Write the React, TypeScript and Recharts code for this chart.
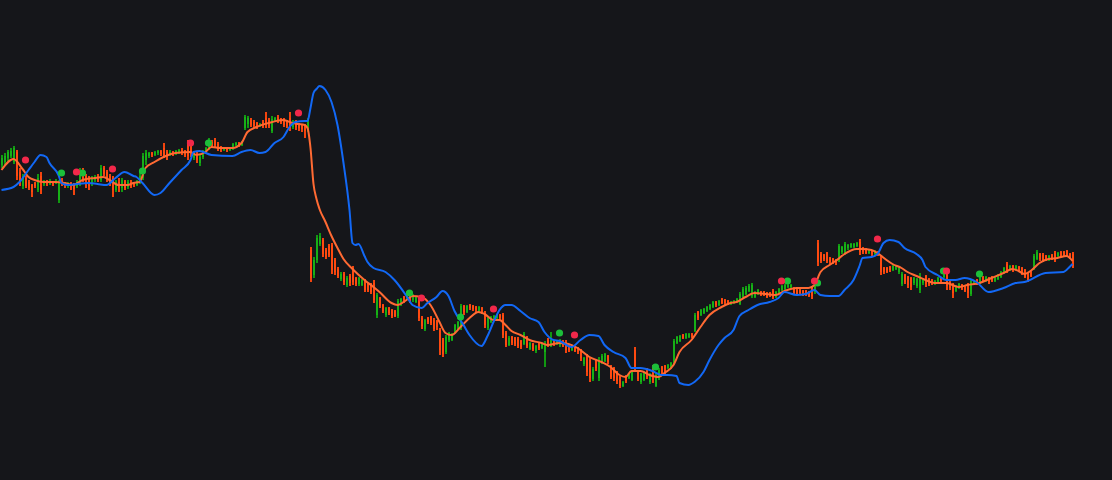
import React from 'react';
import { ComposedChart, Bar, Line, XAxis, YAxis } from 'recharts';

const W = 1112;
const H = 480;
const BG = '#15161a';
const UP_BODY = '#17b017';
const UP_WICK = '#119811';
const DOWN_BODY = '#ff4a10';
const DOWN_WICK = '#f2440e';
const MA_COLOR = '#ff6a33';
const BLUE = '#1268f5';
const RED_DOT = '#f2284a';
const GREEN_DOT = '#1cbf3a';

// OHLC candles (price units)
const open: number[] = [
  315,318,322,324,318,328,308,294,302,298, 295,297,290,304,296,299,296,298,297,280,
  300,296,294,297,296,294,296,308,304,302, 296,300,304,300,312,308,304,302,290,298,
  292,299,293,298,297,295,298,302,320,324, 327,325,327,329,332,328,325,328,326,328,
  330,329,337,
  334,322,326,317,323,329,332,338,340,336, 333,330,332,330,332,335,337,335,352,356,
  360,358,357,354,358,362,360,349,359,363, 361,360,359,362,353,358,356,355,354,350,
  230,205,220,236,240,230,234,235,220,211, 201,206,195,204,212,202,196,195,199,196,
  195,197,165,182,175,165,172,170,169,164, 175,183,182,187,180,178,180,162,151,162,
  163,160,159,150,140,128,140,140,147,151, 152,174,168,175,174,173,169,172,167,152,
  158,160,162,165,165,147,135,143,142,141, 139,136,143,131,136,129,137,132,128,140,
  134,139,136,
  135,139,138,135,130,133,132,130,116,124, 120,101,120,102,118,119,124,113,112,108,
  103,94,104,102,100,130,108,98,100,111, 98,113,94,102,113,114,112,112,118,137,
  139,145,142,143,146,149,168,165,167,169, 171,173,178,175,181,180,179,176,177,178,
  176,183,
  186,189,184,183,186,188,188,187,187,189, 183,187,190,191,193,193,192,190,190,189,
  189,188,192,188,237,226,225,227,222,221, 220,220,228,227,232,233,233,234,238,232,
  231,227,229,226,228,222,212,212,213,210, 211,208,196,205,203,202,197,194,190,197,
  204,201,200,196,198,202,203,207,198,195, 189,192,195,193,196,186,196,200,197,203,
  199,202,203,199,201,203,207,216,210,214, 210,213,212,210,207,208,211,221,226,225,
  224,220,225,227,224,228,228,229,226,226,
];
const high: number[] = [
  325,327,330,332,334,330,312,306,304,300, 296,298,306,308,300,300,301,299,301,300,
  302,298,298,298,297,300,312,312,306,304, 304,305,306,315,314,310,306,304,300,302,
  302,300,300,300,298,300,308,327,330,328, 328,329,330,330,337,330,330,329,330,331,
  332,330,340,
  339,328,328,325,330,333,342,340,342,338, 334,333,333,333,337,338,338,339,365,364,
  362,360,358,357,360,368,362,364,363,365, 362,362,360,368,360,360,357,356,356,362,
  233,223,245,247,242,232,236,237,222,213, 208,208,204,206,214,203,203,201,201,197,
  197,200,187,183,176,173,173,171,170,181, 182,184,189,189,186,184,183,164,161,163,
  164,162,160,152,142,145,148,147,156,159, 176,175,175,176,175,174,174,173,169,163,
  164,165,166,166,167,149,144,144,143,143, 140,148,144,138,137,135,138,137,139,142,
  148,140,140,
  141,140,140,136,134,134,133,131,123,126, 122,113,121,123,126,127,125,115,113,109,
  104,99,105,107,110,133,109,107,109,112, 107,115,107,112,114,115,116,118,141,144,
  145,146,147,147,147,167,169,171,172,174, 176,179,179,180,182,181,180,179,180,182,
  188,193,
  194,196,197,189,191,189,189,188,188,191, 189,192,195,196,196,196,193,191,191,190,
  190,189,194,196,240,228,226,228,223,222, 221,236,234,238,236,237,237,238,241,233,
  232,231,230,230,229,224,213,213,214,215, 215,213,208,206,204,203,203,202,207,202,
  205,202,201,200,203,203,210,209,199,197, 195,197,196,194,197,200,200,201,205,204,
  204,203,204,204,206,209,213,218,215,215, 215,214,213,211,208,209,226,230,227,227,
  225,225,226,229,228,229,229,230,227,228,
];
const low: number[] = [
  312,315,319,322,316,300,294,291,292,290, 283,292,288,286,294,294,295,294,296,277,
  294,292,292,290,285,292,294,298,292,290, 294,298,298,298,304,298,294,283,288,288,
  288,290,291,292,293,294,296,300,315,322, 323,324,325,324,322,320,324,324,325,326,
  325,323,320,
  323,320,317,314,321,327,330,332,333,329, 328,329,328,329,330,334,333,334,350,352,
  353,352,351,353,352,352,352,347,358,357, 356,353,352,349,351,350,349,348,342,348,
  198,202,217,234,223,221,223,206,205,202, 199,195,193,194,195,194,194,194,188,188,
  186,177,162,172,167,163,165,162,163,162, 174,177,181,177,178,177,159,151,149,156,
  155,149,150,125,123,126,138,139,146,150, 150,165,167,170,169,168,168,166,152,150,
  157,159,161,160,142,133,134,135,134,132, 131,135,132,130,129,127,130,131,113,133,
  133,134,135,
  133,133,127,128,129,128,126,119,114,104, 98,99,109,99,116,118,116,101,99,96,
  92,93,97,101,99,109,99,96,99,101, 96,97,93,100,104,106,111,111,116,136,
  138,141,141,142,142,148,160,164,166,168, 170,172,173,174,176,175,175,175,176,177,
  175,182,
  185,188,182,182,185,184,184,182,183,181, 182,186,189,190,192,192,185,184,185,184,
  184,183,181,186,214,217,219,217,216,216, 215,218,226,225,230,232,232,233,225,226,
  226,226,224,225,224,205,206,207,208,209, 210,206,194,196,192,190,195,192,187,195,
  193,194,195,195,197,198,202,190,190,182, 188,191,190,188,182,184,195,195,196,198,
  198,196,198,198,200,202,206,207,209,208, 209,208,205,202,198,203,210,220,219,218,
  219,219,220,218,223,223,223,223,221,212,
];
const close: number[] = [
  322,324,328,329,332,304,298,304,294,292, 288,294,302,290,298,296,299,296,299,298,
  296,294,297,294,291,298,308,300,296,294, 302,303,300,312,306,302,298,290,298,292,
  300,292,298,294,295,299,304,324,327,327, 325,328,329,326,324,323,328,326,329,330,
  327,325,324,
  326,327,320,323,328,332,339,334,335,331, 330,332,330,332,336,337,335,338,363,362,
  355,354,353,356,354,355,354,361,362,359, 358,355,354,353,358,353,352,351,349,360,
  202,220,242,244,226,223,225,210,208,204, 206,198,202,197,198,196,202,200,190,190,
  188,180,185,174,169,172,167,164,164,179, 181,178,188,179,185,183,162,154,160,158,
  157,151,153,130,126,143,147,146,155,158, 174,168,174,172,171,170,173,168,155,162,
  163,164,165,162,145,135,142,137,136,134, 133,146,134,137,131,134,132,136,137,135,
  140,136,139,
  139,135,130,130,133,129,128,122,122,108, 102,111,112,120,124,126,118,103,102,99,
  94,98,99,106,109,112,101,106,108,103, 106,100,105,110,106,108,115,117,139,143,
  144,142,146,146,143,165,162,170,171,173, 175,178,175,179,177,177,176,178,179,181,
  186,191,
  192,194,195,188,190,185,185,183,184,183, 188,191,194,195,195,195,187,186,187,185,
  185,184,184,195,218,219,221,219,218,217, 217,234,233,236,235,236,236,237,228,228,
  227,230,226,229,225,208,208,208,210,214, 214,212,206,198,195,193,202,201,204,201,
  196,196,197,199,202,199,209,194,192,187, 194,196,191,189,187,199,199,196,203,199,
  203,198,199,203,205,208,212,209,214,209, 214,209,206,203,200,204,224,228,221,220,
  220,224,221,220,227,224,224,224,222,214,
];

// Orange moving-average line, sampled at candle indices
const maIdx: number[] = [
  0,4,7,9,11,14,18,21,24,27,31,34,36,39,42,44,46,48,51,54,58,63,65,68,70,73,77,80,82,85,89,94,97,99,101,
  102,103,104,105,106,108,110,112,114,117,121,124,126,130,132,135,137,140,143,146,148,150,153,156,159,161,
  164,166,168,170,173,176,180,182,186,189,192,196,200,203,206,208,210,213,216,219,221,224,226,230,233,236,
  240,243,245,248,251,255,258,261,265,269,271,273,276,278,281,285,287,290,292,295,297,300,302,305,308,311,
  315,319,322,326,330,334,337,339,341,343,346,349,352,355,357,
];
const maVal: number[] = [
  310,321,311,303,300,298,298,297,295,300,302,303,300,295,295,297,298,312,318,323,327,328,325,328,333,332,332,337,348,353,357,360,357,356,355,
  352,332,296,281,271,258,244,232,221,211,200,193,188,177,175,180,184,183,175,158,147,145,153,162,168,166,
  160,160,155,149,145,140,137,135,137,136,132,123,118,113,105,103,109,109,105,103,107,115,128,140,153,165,
  173,177,178,183,187,186,185,189,192,192,195,208,215,219,226,231,231,230,227,220,216,212,208,204,200,197,
  197,193,195,197,202,207,211,209,206,209,217,221,222,224,219,
];

// Blue line, sampled at candle indices
const blueIdx: number[] = [
  0,4,6,9,11,13,15,16,19,20,22,25,29,32,35,38,41,44,45,47,51,53,56,60,63,64,66,70,77,80,83,86,88,91,94,96,98,101,102,103,
  104,105,106,108,110,112,114,116,117,118,119,121,122,124,128,131,135,137,140,142,145,147,149,151,154,156,160,162,164,166,
  168,170,173,176,179,181,184,186,190,193,196,199,201,204,208,210,213,217,220,222,225,226,229,231,234,236,239,241,244,246,
  249,252,256,259,261,265,268,271,273,276,279,281,284,286,287,290,292,294,296,299,301,305,307,308,312,315,318,321,325,329,
  334,338,341,348,354,356,357,
];
const blueVal: number[] = [
  290,293,298,310,318,325,323,317,305,297,295,296,297,296,295,302,308,304,303,297,285,287,297,310,320,328,329,325,324,328,330,327,328,337,343,353,358,359,359,372,
  387,391,394,390,378,355,317,270,237,235,236,224,218,212,208,200,184,175,172,177,183,189,184,169,155,145,134,144,158,170,
  175,175,169,162,158,148,140,139,133,140,145,144,135,128,122,112,112,109,105,105,104,97,95,98,108,120,135,142,150,164,
  170,175,178,182,188,185,186,190,185,184,184,190,200,214,222,223,226,237,240,238,232,226,220,213,205,200,200,202,198,188,
  192,197,198,207,208,213,216,
];

// Signal dots
const redIdx: number[] = [8,25,37,63,99,140,164,191,260,271,292,315];
const redVal: number[] = [320,308,311,337,367,182,171,145,199,199,241,209];
const greenIdx: number[] = [20,27,47,69,136,153,186,218,262,272,314,326];
const greenVal: number[] = [307,307,309,337,187,163,147,113,199,197,209,206];

const toMap = (idx: number[], val: number[]) => {
  const m = new Map<number, number>();
  idx.forEach((k, j) => m.set(k, val[j]));
  return m;
};
const maMap = toMap(maIdx, maVal);
const blueMap = toMap(blueIdx, blueVal);
const redMap = toMap(redIdx, redVal);
const greenMap = toMap(greenIdx, greenVal);

const N = Math.min(open.length, high.length, low.length, close.length);
const data = Array.from({ length: N }, (_, i) => {
  const o = open[i];
  const c = close[i];
  return {
    i,
    wick: [low[i], high[i]],
    body: [Math.min(o, c), Math.max(o, c)],
    up: c >= o,
    ma: maMap.has(i) ? maMap.get(i)! : null,
    blue: blueMap.has(i) ? blueMap.get(i)! : null,
    red: redMap.has(i) ? redMap.get(i)! : null,
    green: greenMap.has(i) ? greenMap.get(i)! : null,
  };
});

const makeCandleRect = (kind: 'wick' | 'body', pxWidth: number) => (props: any) => {
  const { x, y, width, height, payload } = props;
  if (x == null || y == null || isNaN(x) || isNaN(y)) return <g />;
  const center = x + (width || 0) / 2;
  const left = Math.floor(center - pxWidth / 2);
  const top = Math.round(Math.min(y, y + (height || 0)));
  const h = Math.max(Math.round(Math.abs(height || 0)), 1);
  const up = payload ? payload.up : true;
  const fill = kind === 'wick' ? (up ? UP_WICK : DOWN_WICK) : up ? UP_BODY : DOWN_BODY;
  return <rect x={left} y={top} width={pxWidth} height={h} fill={fill} shapeRendering="crispEdges" />;
};
const WickShape = makeCandleRect('wick', 2);
const BodyShape = makeCandleRect('body', 2);

const makeDot = (color: string) => (props: any) => {
  const { cx, cy, value, index } = props;
  if (value == null || cy == null || isNaN(cy)) return <g key={`e${index}`} />;
  return <circle key={`c${index}`} cx={cx} cy={cy} r={3.6} fill={color} />;
};
const redDot = makeDot(RED_DOT);
const greenDot = makeDot(GREEN_DOT);

export default function App() {
  return (
    <div style={{ position: 'absolute', left: 0, top: 0, width: W, height: H, background: BG }}>
      <ComposedChart
        width={W}
        height={H}
        data={data}
        margin={{ top: 0, right: 38, bottom: 0, left: 0 }}
      >
        <XAxis dataKey="i" xAxisId="body" hide />
        <XAxis dataKey="i" xAxisId="wick" hide />
        <YAxis yAxisId="p" type="number" domain={[0, 480]} hide allowDataOverflow />
        <Bar
          xAxisId="wick"
          yAxisId="p"
          dataKey="wick"
          barSize={2}
          shape={WickShape}
          isAnimationActive={false}
        />
        <Bar
          xAxisId="body"
          yAxisId="p"
          dataKey="body"
          barSize={2}
          shape={BodyShape}
          isAnimationActive={false}
        />
        <Line
          xAxisId="body"
          yAxisId="p"
          dataKey="ma"
          type="monotone"
          stroke={MA_COLOR}
          strokeWidth={2}
          dot={false}
          activeDot={false}
          connectNulls
          isAnimationActive={false}
        />
        <Line
          xAxisId="body"
          yAxisId="p"
          dataKey="blue"
          type="monotone"
          stroke={BLUE}
          strokeWidth={2}
          dot={false}
          activeDot={false}
          connectNulls
          isAnimationActive={false}
        />
        <Line
          xAxisId="body"
          yAxisId="p"
          dataKey="green"
          stroke="none"
          dot={greenDot}
          activeDot={false}
          isAnimationActive={false}
        />
        <Line
          xAxisId="body"
          yAxisId="p"
          dataKey="red"
          stroke="none"
          dot={redDot}
          activeDot={false}
          isAnimationActive={false}
        />
      </ComposedChart>
    </div>
  );
}
